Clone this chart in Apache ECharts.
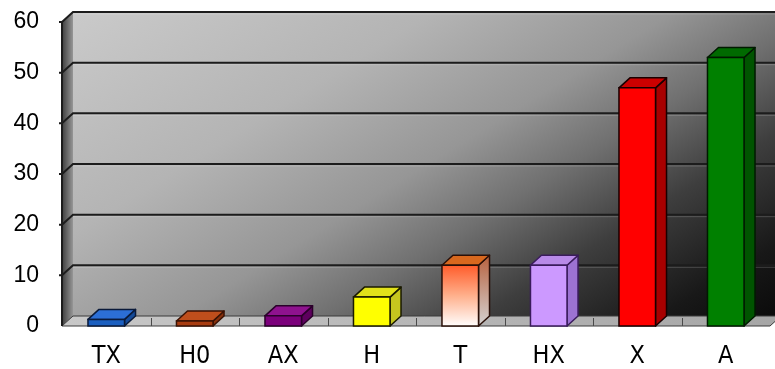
<!DOCTYPE html>
<html>
<head>
<meta charset="utf-8">
<script src="https://cdn.jsdelivr.net/npm/echarts@6/dist/echarts.min.js"></script>
<style>
  html, body { margin: 0; padding: 0; background: #ffffff; }
  #chart { width: 775px; height: 369px; }
</style>
</head>
<body>
<div id="chart"></div>
<script>
// Chart data
const categories = ['TX', 'H0', 'AX', 'H', 'T', 'HX', 'X', 'A'];
const values = [1.3, 1.0, 2.0, 5.7, 12, 12, 47, 53];
const yTicks = [0, 10, 20, 30, 40, 50, 60];

// Depth of the 3D box in pixels: the back plane sits up and to the right
const DX = 11, DY = -10;

// Face colours for each bar (front, top, side, outline)
const barStyles = [
  { front: '#1b5fc0', top: '#2c6fd6', side: '#134a99', stroke: '#0a1a3a' },
  { front: '#a83c10', top: '#bf4e1c', side: '#86300c', stroke: '#3a1204' },
  { front: '#7c007c', top: '#8e128e', side: '#5e005e', stroke: '#2a002a' },
  { front: '#ffff00', top: '#e2e21a', side: '#c6c61e', stroke: '#1a1a00' },
  {
    front: new echarts.graphic.LinearGradient(0, 0, 0, 1, [
      { offset: 0, color: '#ff5a28' },
      { offset: 0.5, color: '#ffb08c' },
      { offset: 1, color: '#ffffff' }
    ]),
    top: '#d8681e',
    side: new echarts.graphic.LinearGradient(0, 0, 0, 1, [
      { offset: 0, color: '#b8603c' },
      { offset: 1, color: '#d4d4d4' }
    ]),
    stroke: '#2a1008'
  },
  { front: '#cc99ff', top: '#b88ae8', side: '#9c72d2', stroke: '#3a1c5c' },
  { front: '#ff0000', top: '#cc0000', side: '#a80000', stroke: '#1a0000' },
  { front: '#008000', top: '#006a00', side: '#005400', stroke: '#001a00' }
];

function grayStops(list) {
  return list.map(function (s) {
    return { offset: s[0], color: 'rgb(' + s[1] + ',' + s[1] + ',' + s[1] + ')' };
  });
}

// Walls, floor and gridlines of the 3D box
function renderBox(params, api) {
  const cs = params.coordSys;
  const L = cs.x, R = cs.x + cs.width;
  const yZero = api.coord([0, 0])[1];
  const yTop = api.coord([0, yTicks[yTicks.length - 1]])[1];
  const children = [];

  // back wall with a diagonal gradient, light top-left to black bottom-right
  const bx = L + DX, by = yTop + DY, bw = R - L, bh = yZero - yTop;
  const a = 1, b = 0.7;
  const s = (a + b) / ((a / bw) * (a / bw) + (b / bh) * (b / bh));
  const ex = bx + s * a / bw, ey = by + s * b / bh;
  children.push({
    type: 'rect',
    shape: { x: bx, y: by, width: bw, height: bh },
    style: {
      fill: new echarts.graphic.LinearGradient(bx, by, ex, ey, grayStops([
        [0, 202], [0.3, 180], [0.5, 150], [0.62, 112], [0.75, 62], [0.9, 24], [1, 10]
      ]), true)
    }
  });

  // left wall
  children.push({
    type: 'polygon',
    shape: { points: [[L, yTop], [L + DX, yTop + DY], [L + DX, yZero + DY], [L, yZero]] },
    style: {
      fill: new echarts.graphic.LinearGradient(L, 0, L + DX, 0, [
        { offset: 0, color: '#3e3e3e' },
        { offset: 1, color: '#969696' }
      ], true)
    }
  });

  // floor
  children.push({
    type: 'polygon',
    shape: { points: [[L, yZero], [L + DX, yZero + DY], [R + DX, yZero + DY], [R, yZero]] },
    style: {
      fill: new echarts.graphic.LinearGradient(L, 0, R, 0, [
        { offset: 0, color: '#c8c8c8' },
        { offset: 1, color: '#a6a6a6' }
      ], true),
      stroke: '#3a3a3a',
      lineWidth: 1
    }
  });

  // tick marks on the floor between categories
  const band = cs.width / categories.length;
  for (let k = 1; k < categories.length; k++) {
    const x = Math.round(L + k * band) + 0.5;
    children.push({
      type: 'line',
      shape: { x1: x, y1: yZero + DY + 2, x2: x, y2: yZero },
      style: { stroke: '#4a4a4a', lineWidth: 1 }
    });
  }

  // gridlines on the back and left walls
  yTicks.forEach(function (v) {
    if (v === 0) return;
    const y = api.coord([0, v])[1];
    children.push({
      type: 'line',
      shape: { x1: L + DX, y1: y + DY + 2, x2: R + DX, y2: y + DY + 2 },
      style: { stroke: 'rgba(255,255,255,0.18)', lineWidth: 1 }
    });
    children.push({
      type: 'polyline',
      shape: { points: [[L - 3, y], [L, y], [L + DX, y + DY], [R + DX, y + DY]] },
      style: { stroke: '#1c1c1c', lineWidth: 2, fill: null }
    });
  });

  // front edge of the left wall (value axis line)
  children.push({
    type: 'line',
    shape: { x1: L, y1: yTop, x2: L, y2: yZero },
    style: { stroke: '#1c1c1c', lineWidth: 2 }
  });

  return { type: 'group', children: children };
}

// One 3D column per category: side face, top face, then front face
function renderBar(params, api) {
  const i = api.value(0), v = api.value(1);
  const band = api.size([1, 0])[0];
  const w = band * 0.413;
  const pTop = api.coord([i, v]);
  const pBase = api.coord([i, 0]);
  const x0 = pTop[0] - w / 2, x1 = pTop[0] + w / 2;
  const yT = pTop[1], yB = pBase[1];
  const st = barStyles[params.dataIndex];
  const lw = 1.5;
  return {
    type: 'group',
    children: [
      {
        type: 'polygon',
        shape: { points: [[x1, yT], [x1 + DX, yT + DY], [x1 + DX, yB + DY], [x1, yB]] },
        style: { fill: st.side, stroke: st.stroke, lineWidth: lw, lineJoin: 'round' }
      },
      {
        type: 'polygon',
        shape: { points: [[x0, yT], [x0 + DX, yT + DY], [x1 + DX, yT + DY], [x1, yT]] },
        style: { fill: st.top, stroke: st.stroke, lineWidth: lw, lineJoin: 'round' }
      },
      {
        type: 'rect',
        shape: { x: x0, y: yT, width: w, height: yB - yT },
        style: { fill: st.front, stroke: st.stroke, lineWidth: lw }
      }
    ]
  };
}

const chart = echarts.init(document.getElementById('chart'), null, { renderer: 'canvas' });

chart.setOption({
  animation: false,
  backgroundColor: '#ffffff',
  grid: { left: 62, right: 5, top: 22, bottom: 42.5 },
  xAxis: {
    type: 'category',
    data: categories,
    axisLine: { show: false },
    axisTick: { show: false },
    axisLabel: {
      margin: 18,
      fontFamily: '"Liberation Sans Narrow", "DejaVu Sans Condensed", sans-serif',
      fontSize: 25,
      color: '#000000'
    },
    splitLine: { show: false }
  },
  yAxis: {
    type: 'value',
    min: yTicks[0],
    max: yTicks[yTicks.length - 1],
    interval: 10,
    axisLine: { show: false },
    axisTick: { show: false },
    axisLabel: {
      margin: 23,
      fontFamily: '"Liberation Sans", Arial, sans-serif',
      fontSize: 23,
      color: '#000000'
    },
    splitLine: { show: false }
  },
  series: [
    {
      type: 'custom',
      name: 'box',
      silent: true,
      z: 1,
      clip: false,
      renderItem: renderBox,
      data: [[0, 0]]
    },
    {
      type: 'custom',
      name: 'values',
      z: 2,
      clip: false,
      renderItem: renderBar,
      data: values.map(function (v, i) { return [i, v]; })
    }
  ]
});
</script>
</body>
</html>
